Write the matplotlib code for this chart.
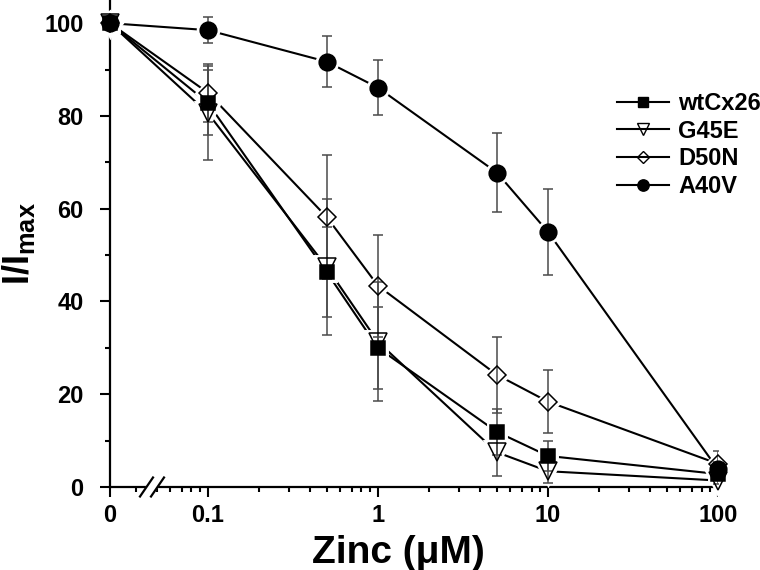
import numpy as np
import matplotlib
matplotlib.use('Agg')
import matplotlib.pyplot as plt
from matplotlib.lines import Line2D

# zinc concentrations (uM) and normalised currents I/Imax (%)
conc = [0, 0.1, 0.5, 1, 5, 10, 100]

wt = [100, 82.8, 46.3, 30.0, 11.9, 6.7, 2.8]
wt_err = [0, 7.0, 9.7, 8.9, 4.9, 3.3, 1.0]

g45e = [100, 80.6, 47.4, 31.3, 7.5, 3.4, 1.4]
g45e_err = [0, 10.2, 14.7, 12.8, 5.1, 2.5, 0.8]

d50n = [100, 85.0, 58.2, 43.4, 24.2, 18.4, 5.0]
d50n_err = [0, 6.2, 13.4, 11.0, 8.2, 6.8, 2.7]

a40v = [100, 98.5, 91.7, 86.1, 67.8, 55.0, 3.8]
a40v_err = [0, 2.8, 5.5, 6.0, 8.5, 9.2, 1.5]

xticks = [0, 0.1, 1, 10, 100]
xticklabels = ['0', '0.1', '1', '10', '100']

plt.rcParams['font.family'] = 'Liberation Sans'
plt.rcParams['font.weight'] = 'bold'
plt.rcParams['mathtext.fontset'] = 'custom'
plt.rcParams['mathtext.rm'] = 'Liberation Sans:bold'
plt.rcParams['mathtext.bf'] = 'Liberation Sans:bold'
plt.rcParams['mathtext.it'] = 'Liberation Sans:bold'

# broken axis: zero sits on a short linear stretch, then log from 0.05 on
X_B = 0.05
Y0 = -1.576


def fwd(x):
    x = np.asarray(x, float)
    lb = np.log10(X_B)
    with np.errstate(divide='ignore', invalid='ignore'):
        lg = np.log10(np.where(x > X_B, x, X_B))
    lin = Y0 + x / X_B * (lb - Y0)
    return np.where(x >= X_B, lg, lin)


def inv(y):
    y = np.asarray(y, float)
    lb = np.log10(X_B)
    with np.errstate(over='ignore'):
        ex = 10.0 ** np.clip(y, -10, 10)
    return np.where(y >= lb, ex, (y - Y0) / (lb - Y0) * X_B)


fig = plt.figure(figsize=(7.6, 5.7), dpi=100)
ax = fig.add_axes([110 / 760, 83 / 570, 608 / 760, 487 / 570])
ax.set_xscale('function', functions=(fwd, inv))

series = [
    ('G45E', g45e, g45e_err, 'v', 13, 'none'),
    ('D50N', d50n, d50n_err, 'D', 9.5, 'none'),
    ('wtCx26', wt, wt_err, 's', 10.5, 'black'),
    ('A40V', a40v, a40v_err, 'o', 12, 'black'),
]

for i, (name, vals, err, m, ms, fc) in enumerate(series):
    ax.plot(conc, vals, '-', color='black', lw=1.5, zorder=2)
    # white halo so the lines stop short of the symbols
    ax.plot(conc, vals, ls='none', marker=m, ms=ms, mfc='white', mec='white',
            mew=5, zorder=3, clip_on=False)
    ax.errorbar(conc, vals, yerr=err, fmt='none', ecolor='#4a4a4a',
                elinewidth=1.1, capsize=3.5, capthick=1.1, zorder=3.5)
    ax.plot(conc, vals, ls='none', marker=m, ms=ms, mfc=fc, mec='black',
            mew=1.1, zorder=4 + i, clip_on=False)

ax.set_xlim(0, 100)
ax.set_ylim(0, 105)
ax.set_xticks(xticks, labels=xticklabels)
minor_x = [0.028, 0.05, 0.06, 0.07, 0.08, 0.09]
minor_x += [k * 0.1 for k in range(2, 10)] + list(range(2, 10)) + [k * 10 for k in range(2, 10)]
ax.set_xticks(minor_x, minor=True)
ax.set_yticks(range(0, 101, 20))
ax.set_yticks(range(10, 100, 20), minor=True)

for s in ('top', 'right'):
    ax.spines[s].set_visible(False)
for s in ('left', 'bottom'):
    ax.spines[s].set_linewidth(1.6)

ax.tick_params(axis='both', which='major', direction='out', length=7, width=1.5,
               labelsize=17)
ax.tick_params(axis='both', which='minor', direction='out', length=3.5, width=1.5)
ax.tick_params(axis='y', which='major', pad=12)
ax.tick_params(axis='x', which='major', pad=5)
for lab in ax.get_xticklabels() + ax.get_yticklabels():
    lab.set_fontweight('bold')

ax.set_xlabel('Zinc (\u03bcM)', fontsize=28, fontweight='bold')
ax.xaxis.set_label_coords(0.474, -0.098)
ax.set_ylabel(r'$\mathrm{I/I_{max}}$', fontsize=26, labelpad=5)

# axis break marks
w = 608.0
h = 487.0
dx = 6.5 / w
dy = 9.5 / h
x1 = (146.5 - 110) / w
x2 = (157.5 - 110) / w
ax.fill([x1 - 0.003, x2 - 0.003, x2 + 0.003, x1 + 0.003],
        [-0.006, -0.006, 0.006, 0.006], color='white',
        transform=ax.transAxes, clip_on=False, zorder=10)
for xc in (x1, x2):
    ax.plot([xc - dx, xc + dx], [-dy, dy], color='black', lw=1.6,
            transform=ax.transAxes, clip_on=False, zorder=11)

# legend
order = ['wtCx26', 'G45E', 'D50N', 'A40V']
lookup = {s[0]: s for s in series}
handles = []
for name in order:
    _, _, _, m, ms, fc = lookup[name]
    handles.append(Line2D([], [], color='black', lw=1.5, marker=m, ms=ms * 0.68,
                          mfc=fc, mec='black', mew=1.0, label=name))
ax.legend(handles=handles, loc='upper left',
          bbox_to_anchor=(617 / 760, 1 - 92 / 570), bbox_transform=fig.transFigure,
          frameon=False, prop={'size': 17, 'weight': 'bold'}, handlelength=2.2,
          handletextpad=0.4, labelspacing=0.2, borderpad=0, borderaxespad=0)

fig.savefig('out.png', dpi=100)
